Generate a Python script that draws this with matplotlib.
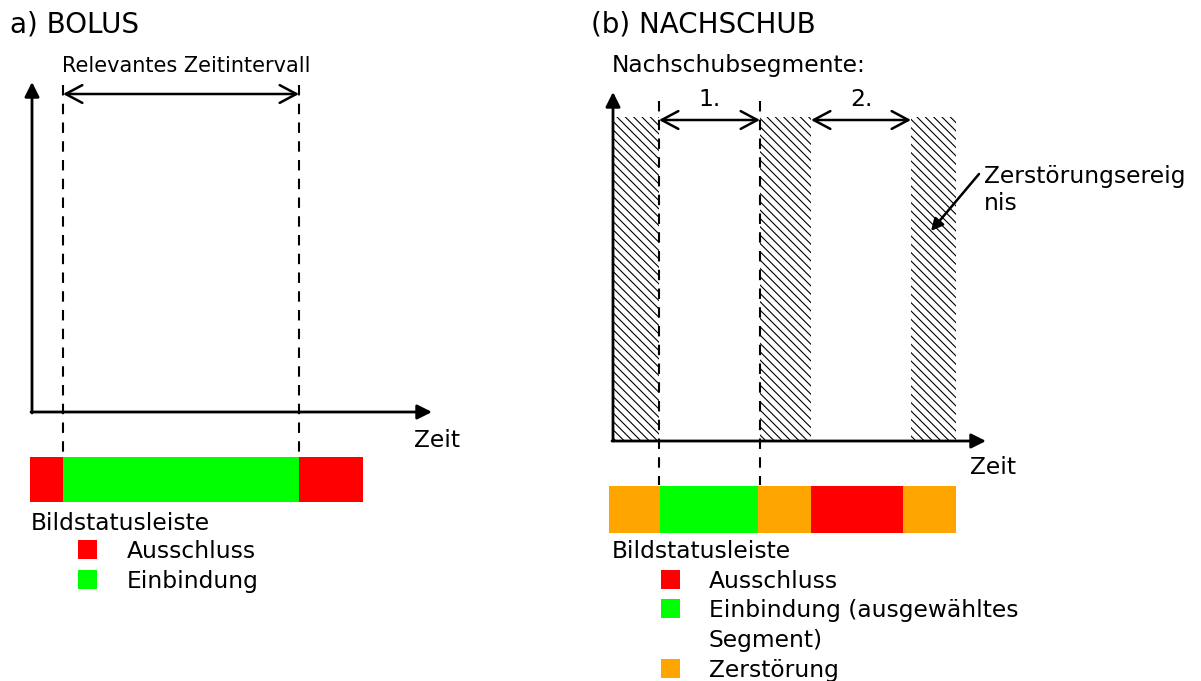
import matplotlib
matplotlib.use("Agg")
import matplotlib.pyplot as plt

# colours for the status bar
status_colors = {"Ausschluss": "#ff0000", "Einbindung": "#00ff00", "Zerstörung": "#ffa500"}

# a) BOLUS: status bar segments (boundaries along time axis) and relevant interval
bolus_bounds = [30, 63, 299, 363]
bolus_status = ["Ausschluss", "Einbindung", "Ausschluss"]
bolus_interval = [63, 299]

# b) NACHSCHUB: status bar, destruction events, refill segments
nach_bounds = [609, 660, 758, 811, 903, 956]
nach_status = ["Zerstörung", "Einbindung", "Zerstörung", "Ausschluss", "Zerstörung"]
destruct_start = [614, 760, 911]
destruct_end = [659, 811, 956]
segment_labels = ["1.", "2."]
segment_start = [659, 811]
segment_end = [760, 911]

legend_a = [("Ausschluss", ["Ausschluss"]), ("Einbindung", ["Einbindung"])]
legend_b = [("Ausschluss", ["Ausschluss"]),
            ("Einbindung", ["Einbindung (ausgewähltes", "Segment)"]),
            ("Zerstörung", ["Zerstörung"])]

plt.rcParams["font.family"] = ["DejaVu Sans"]
plt.rcParams["hatch.linewidth"] = 0.8

fig = plt.figure(figsize=(12.01, 6.81), dpi=100)
ax = fig.add_axes([0, 0, 1, 1])
ax.set_xlim(0, 1201)
ax.set_ylim(681, 0)
ax.axis("off")

fs = 16.8
axis_arrow = dict(arrowstyle="-|>", lw=2, color="k", mutation_scale=22, shrinkA=0, shrinkB=0)
dbl_arrow = dict(arrowstyle="<->,head_length=0.6,head_width=0.32", lw=1.8, color="k",
                 mutation_scale=20, shrinkA=0, shrinkB=0)

# ---------- a) BOLUS ----------
ax.text(10, 32, "a) BOLUS", fontsize=20, va="baseline", ha="left")
ax.annotate("", xy=(32, 82), xytext=(32, 413), arrowprops=axis_arrow)
ax.annotate("", xy=(432, 412), xytext=(31, 412), arrowprops=axis_arrow)
ax.text(414, 447, "Zeit", fontsize=fs, va="baseline", ha="left")

for x in bolus_interval:
    ax.plot([x, x], [85, 457], color="k", lw=1.5, ls=(0, (5, 4)))
ax.annotate("", xy=(bolus_interval[0], 94), xytext=(bolus_interval[1], 94), arrowprops=dbl_arrow)
ax.text(62, 72, "Relevantes Zeitintervall", fontsize=15, va="baseline", ha="left")

lefts = bolus_bounds[:-1]
widths = [b - a for a, b in zip(bolus_bounds[:-1], bolus_bounds[1:])]
ax.barh([479.5] * len(lefts), widths, left=lefts, height=45,
        color=[status_colors[s] for s in bolus_status], lw=0)

ax.text(31, 530, "Bildstatusleiste", fontsize=fs, va="baseline", ha="left")
for i, (key, lines) in enumerate(legend_a):
    y = 558 + i * 30
    ax.barh(y - 9, 19, left=78, height=19, color=status_colors[key], lw=0)
    ax.text(127, y, lines[0], fontsize=fs, va="baseline", ha="left")

# ---------- b) NACHSCHUB ----------
ax.text(591, 33, "(b) NACHSCHUB", fontsize=20, va="baseline", ha="left")
ax.text(612, 72, "Nachschubsegmente:", fontsize=fs, va="baseline", ha="left")

dwidths = [e - s for s, e in zip(destruct_start, destruct_end)]
ax.bar(destruct_start, [440 - 117] * 3, width=dwidths, bottom=117, align="edge",
       color="white", edgecolor="k", hatch="\\\\\\\\", lw=0)

ax.annotate("", xy=(613, 92), xytext=(613, 441), arrowprops=axis_arrow)
ax.annotate("", xy=(986, 441), xytext=(612, 441), arrowprops=axis_arrow)
ax.text(970, 474, "Zeit", fontsize=fs, va="baseline", ha="left")

for x in segment_start[:1] + segment_end[:1]:
    ax.plot([x, x], [101, 485], color="k", lw=1.5, ls=(0, (5, 4)))
for lab, s, e in zip(segment_labels, segment_start, segment_end):
    ax.annotate("", xy=(s, 120), xytext=(e, 120), arrowprops=dbl_arrow)
    ax.text((s + e) / 2, 106, lab, fontsize=fs, va="baseline", ha="center")

ax.annotate("", xy=(931, 231), xytext=(979, 174),
            arrowprops=dict(arrowstyle="-|>", lw=1.8, color="k", mutation_scale=18,
                            shrinkA=0, shrinkB=0))
ax.text(984, 183, "Zerstörungsereig", fontsize=fs, va="baseline", ha="left")
ax.text(984, 210, "nis", fontsize=fs, va="baseline", ha="left")

lefts = nach_bounds[:-1]
widths = [b - a for a, b in zip(nach_bounds[:-1], nach_bounds[1:])]
ax.barh([509.5] * len(lefts), widths, left=lefts, height=47,
        color=[status_colors[s] for s in nach_status], lw=0)

ax.text(612, 558, "Bildstatusleiste", fontsize=fs, va="baseline", ha="left")
leg_y = [588, 617, 677]
for (key, lines), y in zip(legend_b, leg_y):
    ax.barh(y - 9, 19, left=661, height=19, color=status_colors[key], lw=0)
    for j, line in enumerate(lines):
        ax.text(709, y + j * 30, line, fontsize=fs, va="baseline", ha="left")

fig.savefig("out.png", dpi=100)
